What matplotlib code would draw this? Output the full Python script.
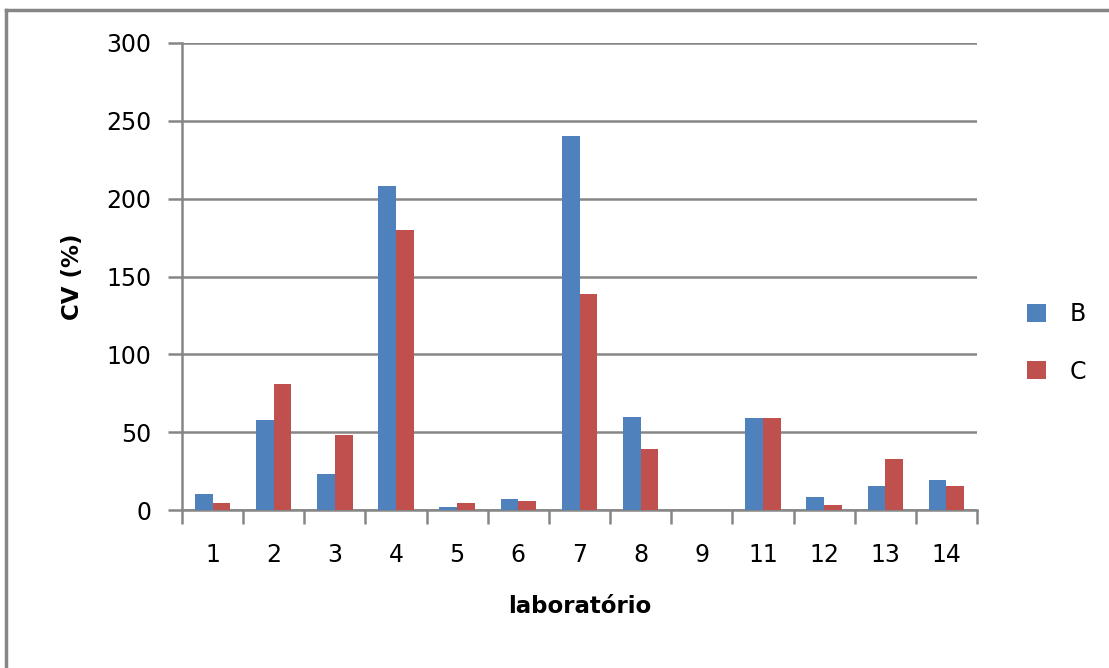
import numpy as np
import matplotlib.pyplot as plt
from matplotlib.lines import Line2D

labs = ['1', '2', '3', '4', '5', '6', '7', '8', '9', '11', '12', '13', '14']
cv_B = [10, 58, 23, 208, 2, 7, 240, 60, 0, 59, 8.5, 15.5, 19]
cv_C = [4.5, 81, 48, 180, 4.5, 5.5, 139, 39, 0, 59, 3, 33, 15.5]

W, H = 1109, 668
fig = plt.figure(figsize=(W / 100, H / 100), dpi=100)
ax = fig.add_axes([182 / W, 1 - 510 / H, (977 - 182) / W, (510 - 43) / H])

grey = '#868686'
x = np.arange(len(labs))
bw = 0.29
ax.bar(x - bw / 2, cv_B, bw, color='#4f81bd', label='B', zorder=3)
ax.bar(x + bw / 2, cv_C, bw, color='#c0504d', label='C', zorder=3)

ax.set_xlim(-0.5, len(labs) - 0.5)
ax.set_ylim(0, 300)
ax.set_yticks(range(0, 301, 50))
ax.yaxis.grid(True, color=grey, linewidth=1.8, zorder=0)
ax.set_axisbelow(True)

fs = 17
ax.set_xticks(x)
ax.set_xticklabels(labs)
ax.set_xticks(np.arange(-0.5, len(labs)), minor=True)
ax.tick_params(axis='x', which='major', length=0, pad=24, labelsize=fs)
ax.tick_params(axis='x', which='minor', length=10, width=1.8, color=grey)
ax.tick_params(axis='y', length=10, width=1.8, color=grey, pad=12, labelsize=fs)

for s in ['top', 'right']:
    ax.spines[s].set_visible(False)
for s in ['left', 'bottom']:
    ax.spines[s].set_color(grey)
    ax.spines[s].set_linewidth(1.8)

ax.set_xlabel('laboratório', fontsize=16.5, fontweight='bold', labelpad=20)
ax.set_ylabel('CV (%)', fontsize=16.5, fontweight='bold', labelpad=16)

fig.legend(loc='center left', bbox_to_anchor=(1006 / W, 1 - 343 / H), frameon=False,
           fontsize=fs, handlelength=0.8, handleheight=0.8, labelspacing=1.4,
           handletextpad=1.0)

# outer chart frame
fig.add_artist(Line2D([6 / W, 6 / W], [0, 1 - 10 / H], color=grey, linewidth=2.5))
fig.add_artist(Line2D([6 / W, 1], [1 - 10 / H, 1 - 10 / H], color=grey, linewidth=2.5))

fig.savefig('out.png', dpi=100, facecolor='white')
